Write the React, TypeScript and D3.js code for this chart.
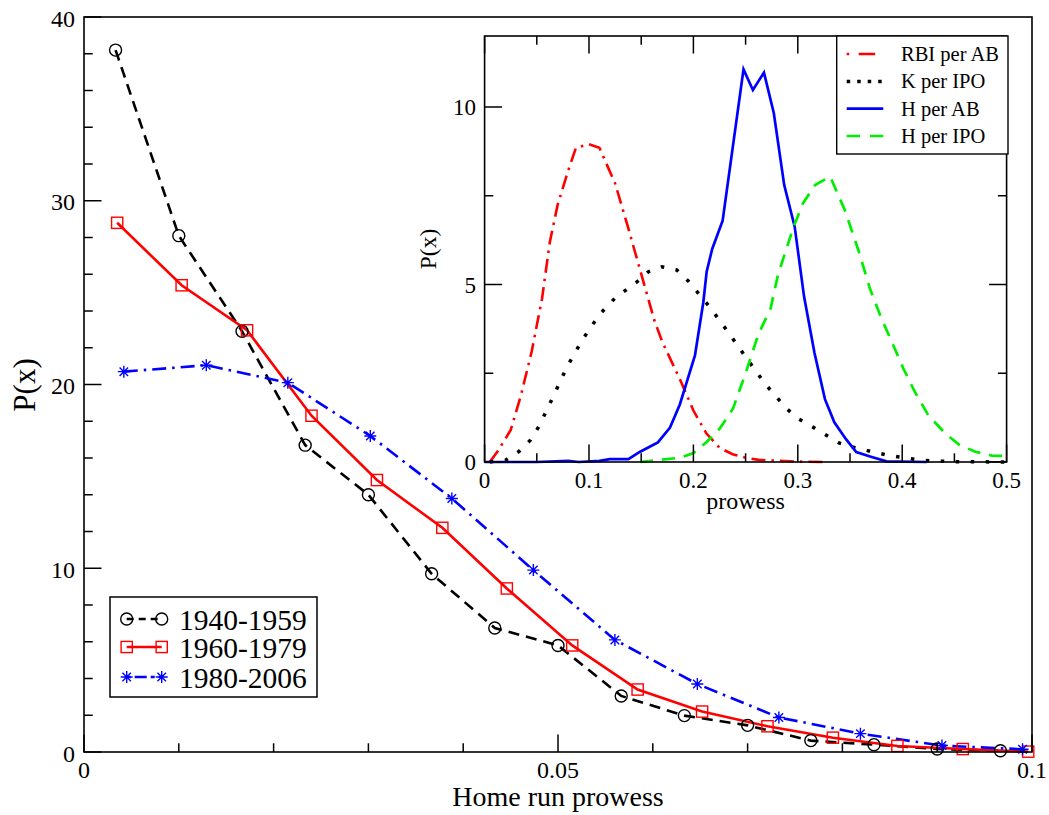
import React from 'react';
import * as d3 from 'd3';

// ---------- main chart data ----------
const mainXTicks = [0, 0.05, 0.1];
const mainXTickLabels = ['0', '0.05', '0.1'];
const mainYTicks = [0, 10, 20, 30, 40];
const eraLabels = ['1940-1959', '1960-1979', '1980-2006'];

const era1X = [0.00333, 0.01, 0.01667, 0.02333, 0.03, 0.03667, 0.04333, 0.05, 0.05667, 0.06333, 0.07, 0.07667, 0.08333, 0.09, 0.09667];
const era1Y = [38.2, 28.1, 22.9, 16.7, 14.0, 9.7, 6.75, 5.8, 3.05, 1.98, 1.45, 0.62, 0.4, 0.16, 0.07];

const era2X = [0.0035, 0.0103, 0.0172, 0.024, 0.0309, 0.0378, 0.0446, 0.0515, 0.0584, 0.0652, 0.0721, 0.079, 0.0858, 0.0927, 0.0996];
const era2Y = [28.8, 25.4, 22.95, 18.3, 14.8, 12.2, 8.9, 5.8, 3.4, 2.2, 1.4, 0.78, 0.33, 0.16, 0.02];

const era3X = [0.0042, 0.0129, 0.0215, 0.0302, 0.0388, 0.0474, 0.056, 0.0647, 0.0733, 0.0819, 0.0905, 0.099];
const era3Y = [20.7, 21.05, 20.1, 17.2, 13.8, 9.9, 6.1, 3.7, 1.88, 1.0, 0.35, 0.15];

// ---------- inset data ----------
const insetXTicks = [0, 0.1, 0.2, 0.3, 0.4, 0.5];
const insetXTickLabels = ['0', '0.1', '0.2', '0.3', '0.4', '0.5'];
const insetYTicks = [0, 5, 10];
const insetLabels = ['RBI per AB', 'K per IPO', 'H per AB', 'H per IPO'];

const rbiX = [0.005, 0.0125, 0.025, 0.035, 0.045, 0.055, 0.0625, 0.07, 0.08, 0.0875, 0.1, 0.11, 0.125, 0.1375, 0.15, 0.1625, 0.17, 0.1875, 0.2, 0.2125, 0.225, 0.2375, 0.25, 0.2625, 0.275, 0.2875, 0.3, 0.325];
const rbiY = [0.0, 0.3, 0.9, 1.9, 3.1, 4.6, 6.2, 7.25, 8.2, 8.85, 8.95, 8.85, 7.85, 6.6, 5.3, 4.0, 3.4, 2.3, 1.45, 0.8, 0.4, 0.22, 0.12, 0.06, 0.04, 0.03, 0.01, 0.0];

const kX = [0.005, 0.02, 0.033, 0.044, 0.052, 0.065, 0.0786, 0.0936, 0.11, 0.125, 0.145, 0.157, 0.17, 0.184, 0.195, 0.215, 0.233, 0.251, 0.269, 0.289, 0.3, 0.314, 0.34, 0.355, 0.37, 0.385, 0.4, 0.415, 0.43, 0.45, 0.5];
const kY = [0.0, 0.05, 0.3, 0.62, 1.0, 1.8, 2.66, 3.44, 4.15, 4.62, 5.05, 5.36, 5.5, 5.41, 5.1, 4.39, 3.67, 2.92, 2.19, 1.51, 1.23, 0.99, 0.53, 0.4, 0.3, 0.2, 0.13, 0.06, 0.03, 0.01, 0.0];

const habX = [0.0, 0.05, 0.08, 0.09, 0.11, 0.12, 0.1377, 0.149, 0.166, 0.1776, 0.187, 0.2015, 0.2095, 0.2127, 0.218, 0.228, 0.248, 0.257, 0.2676, 0.277, 0.287, 0.297, 0.306, 0.316, 0.326, 0.335, 0.346, 0.356, 0.37, 0.385, 0.4235];
const habY = [0.0, 0.0, 0.03, 0.0, 0.03, 0.08, 0.08, 0.29, 0.55, 0.97, 1.62, 3.0, 4.5, 5.36, 6.0, 6.8, 11.06, 10.48, 10.97, 9.83, 7.8, 6.63, 4.66, 3.07, 1.77, 1.12, 0.65, 0.28, 0.15, 0.02, 0.0];

const hipoX = [0.149, 0.167, 0.187, 0.2, 0.213, 0.2255, 0.238, 0.25, 0.262, 0.274, 0.281, 0.296, 0.305, 0.3165, 0.331, 0.345, 0.358, 0.369, 0.38, 0.39, 0.401, 0.412, 0.425, 0.441, 0.455, 0.47, 0.486, 0.4995];
const hipoY = [0.0, 0.06, 0.12, 0.25, 0.57, 0.95, 1.51, 2.5, 3.58, 4.33, 5.27, 6.63, 7.29, 7.8, 8.04, 7.1, 5.97, 4.89, 4.05, 3.39, 2.64, 1.98, 1.32, 0.81, 0.48, 0.29, 0.18, 0.17];

const FONT = "'Liberation Serif', 'Times New Roman', Times, serif";

type Pt = [number, number];
const zip = (xs: number[], ys: number[]): Pt[] => xs.map((x, i) => [x, ys[i]] as Pt);

function Marker({ kind, cx, cy, color }: { kind: string; cx: number; cy: number; color: string }) {
  if (kind === 'circle') {
    return <circle cx={cx} cy={cy} r={6} fill="none" stroke={color} strokeWidth={1.4} />;
  }
  if (kind === 'square') {
    return <rect x={cx - 5.6} y={cy - 5.6} width={11.2} height={11.2} fill="none" stroke={color} strokeWidth={1.4} />;
  }
  const r = 6;
  const d = r * Math.SQRT1_2;
  const p = `M${cx - r},${cy}L${cx + r},${cy}M${cx},${cy - r}L${cx},${cy + r}M${cx - d},${cy - d}L${cx + d},${cy + d}M${cx - d},${cy + d}L${cx + d},${cy - d}`;
  return <path d={p} stroke={color} strokeWidth={1.4} fill="none" />;
}

export default function App() {
  const mx = d3.scaleLinear().domain([0, 0.1]).range([84, 1032]);
  const my = d3.scaleLinear().domain([0, 40]).range([752, 17]);
  const ix = d3.scaleLinear().domain([0, 0.5]).range([484.6, 1006.6]);
  const iy = d3.scaleLinear().domain([0, 12]).range([462, 36]);

  const mainLine = d3.line<Pt>().x(d => mx(d[0])).y(d => my(d[1]));
  const insetLine = d3.line<Pt>().x(d => ix(d[0])).y(d => iy(d[1]));

  const mainSeries = [
    { pts: zip(era1X, era1Y), color: '#000000', dash: '11,7', width: 2.6, marker: 'circle', label: eraLabels[0] },
    { pts: zip(era2X, era2Y), color: '#ff0000', dash: 'none', width: 2.6, marker: 'square', label: eraLabels[1] },
    { pts: zip(era3X, era3Y), color: '#0000ff', dash: '14,6,2.5,6', width: 2.6, marker: 'star', label: eraLabels[2] },
  ];

  const insetSeries = [
    { pts: zip(rbiX, rbiY), color: '#ff0000', dash: '14,6,2.5,6', legDash: '2.5,9.5,16.5,20', width: 2.6, cap: 'butt', label: insetLabels[0] },
    { pts: zip(kX, kY), color: '#000000', dash: '3.5,11.5', legDash: '3.5,7', width: 3.5, cap: 'butt', label: insetLabels[1] },
    { pts: zip(habX, habY), color: '#0000ff', dash: 'none', legDash: 'none', width: 2.7, cap: 'butt', label: insetLabels[2] },
    { pts: zip(hipoX, hipoY), color: '#00ee00', dash: '13,9', legDash: '13.3,10', width: 2.7, cap: 'butt', label: insetLabels[3] },
  ];

  const mainMinorX = d3.range(0, 0.1001, 0.01).filter(v => !mainXTicks.some(t => Math.abs(t - v) < 1e-9));
  const mainMinorY = d3.range(0, 40.01, 2).filter(v => v % 10 !== 0);
  const insetMinorX = d3.range(0.05, 0.5, 0.1);
  const insetMinorY = d3.range(2.5, 12, 5);

  const [mx0, mx1] = mx.range();
  const [my0, my1] = my.range();
  const [ix0, ix1] = ix.range();
  const [iy0, iy1] = iy.range();

  const MAJ = 17.5, MIN = 8.7;

  return (
    <svg width={1049} height={815} style={{ position: 'absolute', left: 0, top: 0, background: '#fff' }} fontFamily={FONT}>
      <rect x={0} y={0} width={1049} height={815} fill="#fff" />

      {/* main series lines */}
      {mainSeries.map((s, i) => (
        <path key={'ml' + i} d={mainLine(s.pts) || ''} fill="none" stroke={s.color} strokeWidth={s.width}
          strokeDasharray={s.dash} strokeLinejoin="miter" />
      ))}
      {mainSeries.map((s, i) => (
        <g key={'mm' + i}>
          {s.pts.map((p, j) => <Marker key={j} kind={s.marker} cx={mx(p[0])} cy={my(p[1])} color={s.color} />)}
        </g>
      ))}

      {/* main frame */}
      <rect x={mx0} y={my1} width={mx1 - mx0} height={my0 - my1} fill="none" stroke="#000" strokeWidth={1.6} />
      {mainXTicks.map(t => <line key={'mxt' + t} x1={mx(t)} x2={mx(t)} y1={my0} y2={my0 - MAJ} stroke="#000" strokeWidth={1.5} />)}
      {mainMinorX.map(t => <line key={'mxm' + t} x1={mx(t)} x2={mx(t)} y1={my0} y2={my0 - MIN} stroke="#000" strokeWidth={1.5} />)}
      {mainYTicks.map(t => <line key={'myt' + t} x1={mx0} x2={mx0 + MAJ} y1={my(t)} y2={my(t)} stroke="#000" strokeWidth={1.5} />)}
      {mainMinorY.map(t => <line key={'mym' + t} x1={mx0} x2={mx0 + MIN} y1={my(t)} y2={my(t)} stroke="#000" strokeWidth={1.5} />)}
      {mainXTicks.map((t, i) => (
        <text key={'mxl' + t} x={mx(t)} y={778} fontSize={24} textAnchor="middle" fill="#000">{mainXTickLabels[i]}</text>
      ))}
      {mainYTicks.map(t => (
        <text key={'myl' + t} x={75} y={my(t) + 9.5} fontSize={24} textAnchor="end" fill="#000">{t}</text>
      ))}
      <text x={(mx0 + mx1) / 2} y={806} fontSize={28} textAnchor="middle" fill="#000">Home run prowess</text>
      <text transform={`translate(35,385) rotate(-90)`} fontSize={31} textAnchor="middle" fill="#000">P(x)</text>

      {/* main legend */}
      <rect x={110} y={597} width={207} height={100} fill="#fff" stroke="#000" strokeWidth={1.5} />
      {mainSeries.map((s, i) => {
        const yy = [619, 647, 677][i];
        return (
          <g key={'leg' + i}>
            <line x1={126.7} x2={161.7} y1={yy} y2={yy} stroke={s.color} strokeWidth={s.width}
              strokeDasharray={i === 0 ? '7,5' : i === 2 ? '4,4,12,4' : 'none'} />
            <Marker kind={s.marker} cx={126.7} cy={yy} color={s.color} />
            <Marker kind={s.marker} cx={161.7} cy={yy} color={s.color} />
            <text x={179} y={yy + 10.5} fontSize={29.5} fill="#000">{s.label}</text>
          </g>
        );
      })}

      {/* inset */}
      <rect x={ix0} y={iy1} width={ix1 - ix0} height={iy0 - iy1} fill="#fff" />
      {insetSeries.map((s, i) => (
        <path key={'il' + i} d={insetLine(s.pts) || ''} fill="none" stroke={s.color} strokeWidth={s.width}
          strokeDasharray={s.dash} strokeLinecap={s.cap as any} strokeLinejoin="miter" />
      ))}
      <rect x={ix0} y={iy1} width={ix1 - ix0} height={iy0 - iy1} fill="none" stroke="#000" strokeWidth={1.6} />
      {insetXTicks.map(t => (
        <g key={'ixt' + t}>
          <line x1={ix(t)} x2={ix(t)} y1={iy0} y2={iy0 - MAJ} stroke="#000" strokeWidth={1.5} />
          <line x1={ix(t)} x2={ix(t)} y1={iy1} y2={iy1 + MAJ} stroke="#000" strokeWidth={1.5} />
        </g>
      ))}
      {insetMinorX.map(t => (
        <g key={'ixm' + t}>
          <line x1={ix(t)} x2={ix(t)} y1={iy0} y2={iy0 - MIN} stroke="#000" strokeWidth={1.5} />
          <line x1={ix(t)} x2={ix(t)} y1={iy1} y2={iy1 + MIN} stroke="#000" strokeWidth={1.5} />
        </g>
      ))}
      {insetYTicks.map(t => (
        <g key={'iyt' + t}>
          <line x1={ix0} x2={ix0 + MAJ} y1={iy(t)} y2={iy(t)} stroke="#000" strokeWidth={1.5} />
          <line x1={ix1} x2={ix1 - MAJ} y1={iy(t)} y2={iy(t)} stroke="#000" strokeWidth={1.5} />
        </g>
      ))}
      {insetMinorY.map(t => (
        <g key={'iym' + t}>
          <line x1={ix0} x2={ix0 + MIN} y1={iy(t)} y2={iy(t)} stroke="#000" strokeWidth={1.5} />
          <line x1={ix1} x2={ix1 - MIN} y1={iy(t)} y2={iy(t)} stroke="#000" strokeWidth={1.5} />
        </g>
      ))}
      {insetXTicks.map((t, i) => (
        <text key={'ixl' + t} x={ix(t)} y={488} fontSize={23} textAnchor="middle" fill="#000">{insetXTickLabels[i]}</text>
      ))}
      {insetYTicks.map(t => (
        <text key={'iyl' + t} x={476} y={iy(t) + 8.2} fontSize={23} textAnchor="end" fill="#000">{t}</text>
      ))}
      <text x={(ix0 + ix1) / 2} y={509} fontSize={24} textAnchor="middle" fill="#000">prowess</text>
      <text transform={`translate(435.5,249) rotate(-90)`} fontSize={23.5} textAnchor="middle" fill="#000">P(x)</text>

      {/* inset legend */}
      <rect x={836.7} y={iy1} width={1008 - 836.7} height={154 - iy1} fill="#fff" stroke="#000" strokeWidth={1.4} />
      {insetSeries.map((s, i) => {
        const yy = [54, 81.5, 108.7, 136][i];
        return (
          <g key={'ileg' + i}>
            <line x1={846.7} x2={883.3} y1={yy} y2={yy} stroke={s.color} strokeWidth={s.width}
              strokeDasharray={s.legDash} strokeLinecap="butt" />
            <text x={901} y={yy + 6.8} fontSize={20.5} fill="#000">{s.label}</text>
          </g>
        );
      })}
    </svg>
  );
}
